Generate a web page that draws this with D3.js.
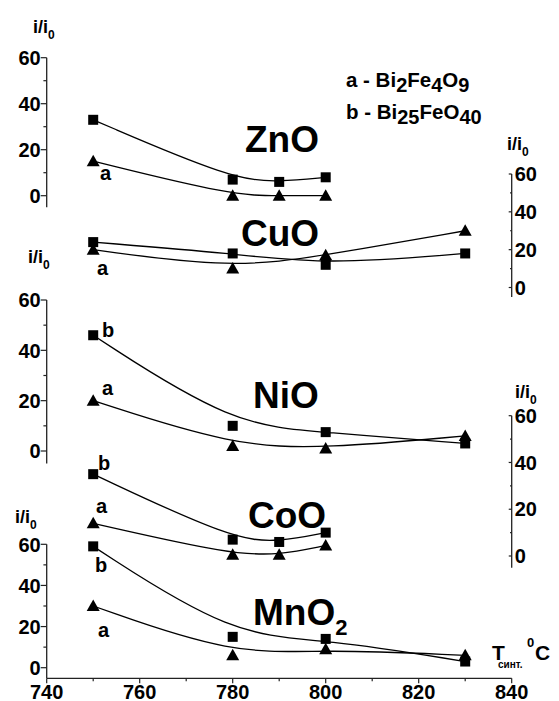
<!doctype html>
<html>
<head>
<meta charset="utf-8">
<script src="https://cdn.jsdelivr.net/npm/d3@7"></script>
<style>
  body { margin: 0; background: #fff; }
  svg { font-family: "Liberation Sans", Arial, sans-serif; font-weight: bold; }
</style>
</head>
<body>
<svg width="559" height="701"></svg>
<script>
// temperatures of synthesis, per oxide
const tZnO = [750, 780, 790, 800];
const tCuO = [750, 780, 800, 830];
const tNiO = [750, 780, 800, 830];
const tCoO = [750, 780, 790, 800];
const tMnO2 = [750, 780, 800, 830];

// a - Bi2Fe4O9 (triangles), b - Bi25FeO40 (squares)
const znoA = [15, 0, 0, 0];
const znoB = [33, 7, 6, 8];
const cuoA = [20, 10, 17, 30];
const cuoB = [24, 18, 12, 18];
const nioA = [20, 2, 1, 6];
const nioB = [46, 10, 7.5, 3];
const cooA = [14, 0.5, 0.5, 4.5];
const cooB = [35, 7, 6, 10];
const mnoA = [30, 6, 9, 6];
const mnoB = [59, 15, 14, 3];

const xTicks = [740, 760, 780, 800, 820, 840];
const yTicks = [0, 20, 40, 60];

const svg = d3.select("svg");
const x = d3.scaleLinear().domain([740, 840]).range([46.7, 511.7]);

// panels: y range in px for [0, 60], axis side
const panels = [
  {name: "ZnO", t: tZnO, a: znoA, b: znoB, r: [195.7, 57.7], side: "left",
   lab: [245, 152], ia: [100, 180], ib: null, il: [33, 33]},
  {name: "CuO", t: tCuO, a: cuoA, b: cuoB, r: [287.5, 174], side: "right",
   lab: [241, 246], ia: [97, 275], ib: null, il: [507, 150]},
  {name: "NiO", t: tNiO, a: nioA, b: nioB, r: [451, 300], side: "left",
   lab: [253, 408], ia: [102, 395], ib: [102, 337], il: [28, 263]},
  {name: "CoO", t: tCoO, a: cooA, b: cooB, r: [556, 415.7], side: "right",
   lab: [248, 528], ia: [96, 513], ib: [98, 470], il: [515, 398]},
  {name: "MnO", sub: "2", t: tMnO2, a: mnoA, b: mnoB, r: [667.7, 544.3], side: "left",
   lab: [253, 625], ia: [98, 637], ib: [95, 572], il: [15, 523]}
];

panels.forEach(p => {
  const y = d3.scaleLinear().domain([0, 60]).range(p.r);
  const g = svg.append("g");
  const ax = p.side === "left" ? x(740) : x(840);

  // axis line
  g.append("line")
    .attr("x1", ax).attr("x2", ax)
    .attr("y1", y(60)).attr("y2", y(-5))
    .attr("stroke", "#222").attr("stroke-width", 1.3);

  // ticks
  const len = p.side === "left" ? 6 : 3;
  d3.range(0, 61, 10).forEach(v => {
    const major = v % 20 === 0;
    const l = major ? len : len * 0.55;
    g.append("line")
      .attr("x1", ax - l).attr("x2", ax)
      .attr("y1", y(v)).attr("y2", y(v))
      .attr("stroke", "#222").attr("stroke-width", 1.2);
  });
  yTicks.forEach(v => {
    g.append("text")
      .attr("x", p.side === "left" ? ax - 6 : ax + 3)
      .attr("y", y(v))
      .attr("dy", "0.36em")
      .attr("text-anchor", p.side === "left" ? "end" : "start")
      .attr("font-size", 20)
      .text(v);
  });

  // i/i0 label
  const il = g.append("text").attr("x", p.il[0]).attr("y", p.il[1]).attr("font-size", 18);
  il.append("tspan").text("i/i");
  il.append("tspan").attr("font-size", 12).attr("dy", 6).text("0");

  // curves
  const line = d3.line().x(d => x(d[0])).y(d => y(d[1])).curve(d3.curveBasis);
  [p.a, p.b].forEach(vals => {
    g.append("path")
      .attr("d", line(p.t.map((t, i) => [t, vals[i]])))
      .attr("fill", "none").attr("stroke", "#000").attr("stroke-width", 1.3);
  });

  // markers
  g.selectAll(".sq").data(p.t.map((t, i) => [t, p.b[i]])).enter()
    .append("rect")
    .attr("x", d => x(d[0]) - 5).attr("y", d => y(d[1]) - 5)
    .attr("width", 10).attr("height", 10).attr("fill", "#000");
  g.selectAll(".tri").data(p.t.map((t, i) => [t, p.a[i]])).enter()
    .append("path")
    .attr("transform", d => `translate(${x(d[0])},${y(d[1])})`)
    .attr("d", "M0,-6.5L6.5,5L-6.5,5Z").attr("fill", "#000");

  // oxide name
  const nm = g.append("text").attr("x", p.lab[0]).attr("y", p.lab[1]).attr("font-size", 37).text(p.name);
  if (p.sub) {
    nm.append("tspan").attr("font-size", 22).attr("dy", 10).text(p.sub);
  }

  // series letters
  if (p.ia) g.append("text").attr("x", p.ia[0]).attr("y", p.ia[1]).attr("font-size", 20).text("a");
  if (p.ib) g.append("text").attr("x", p.ib[0]).attr("y", p.ib[1]).attr("font-size", 20).text("b");
});

// x axis
const yAx = 678.3;
svg.append("line")
  .attr("x1", x(740)).attr("x2", x(840))
  .attr("y1", yAx).attr("y2", yAx)
  .attr("stroke", "#222").attr("stroke-width", 1.3);
d3.range(740, 841, 10).forEach(v => {
  const major = v % 20 === 0;
  svg.append("line")
    .attr("x1", x(v)).attr("x2", x(v))
    .attr("y1", yAx).attr("y2", yAx + (major ? 5 : 3))
    .attr("stroke", "#222").attr("stroke-width", 1.2);
});
xTicks.forEach(v => {
  svg.append("text")
    .attr("x", x(v)).attr("y", 699)
    .attr("text-anchor", "middle")
    .attr("font-size", 20)
    .text(v);
});

// x axis title: T синт. 0C
const xt = svg.append("text").attr("y", 660).attr("font-size", 21);
xt.append("tspan").attr("x", 492).text("T");
xt.append("tspan").attr("x", 498).attr("y", 668).attr("font-size", 10).text("синт.");
xt.append("tspan").attr("x", 527).attr("y", 647).attr("font-size", 13).text("0");
xt.append("tspan").attr("x", 535).attr("y", 660).text("C");

// legend
const legend = [
  ["a - Bi", "2", "Fe", "4", "O", "9"],
  ["b - Bi", "25", "FeO", "40", "", ""]
];
legend.forEach((parts, i) => {
  const t = svg.append("text").attr("x", 346).attr("y", 87 + i * 32).attr("font-size", 20.5);
  parts.forEach((s, k) => {
    if (!s) return;
    const sp = t.append("tspan").text(s);
    if (k % 2 === 1) sp.attr("font-size", 20).attr("dy", 5);
    else if (k > 0) sp.attr("dy", -5);
  });
});
</script>
</body>
</html>
